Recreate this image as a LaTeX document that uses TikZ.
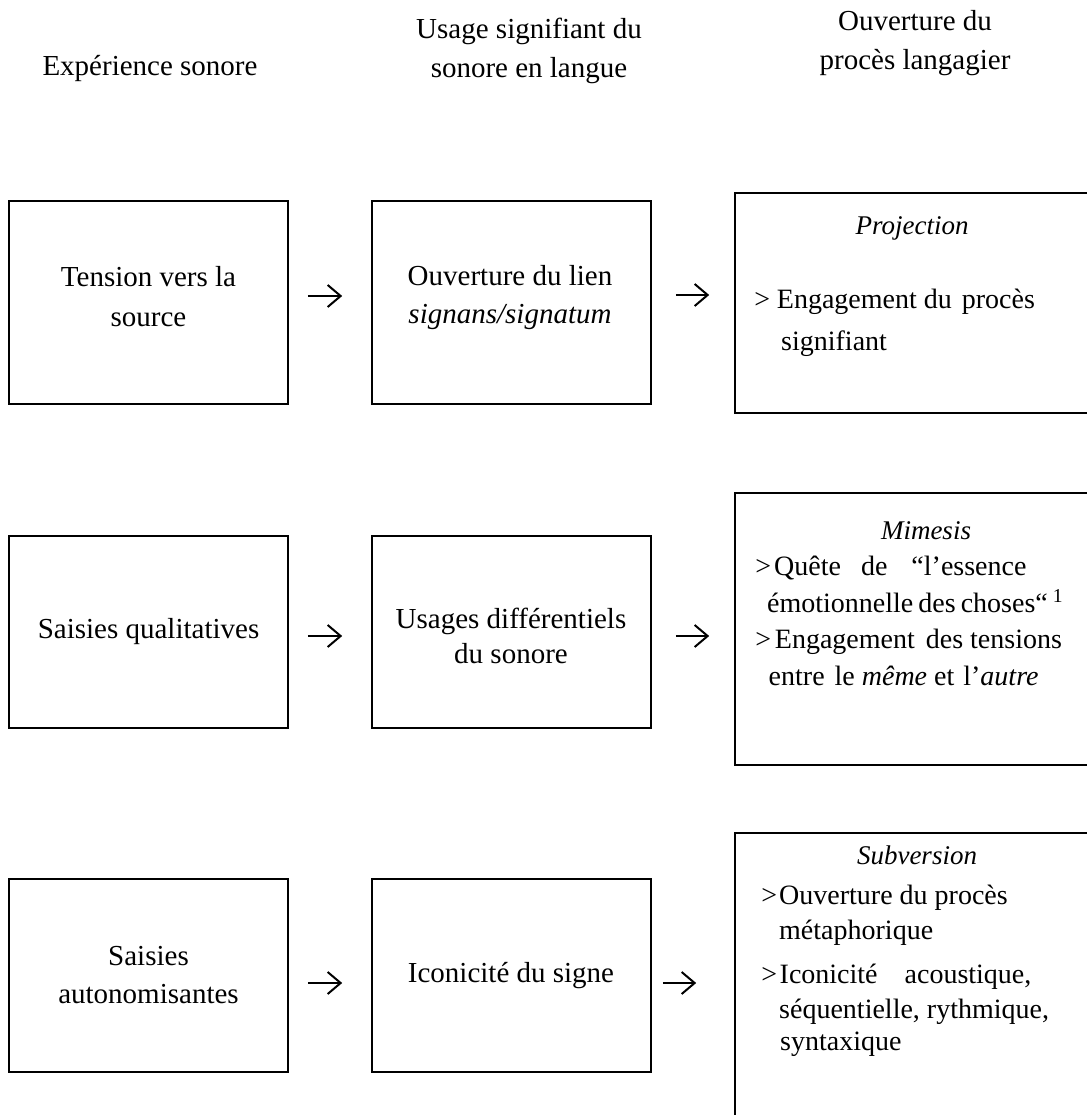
\documentclass[tikz,border=0pt]{standalone}
\usepackage{fontspec}
\setmainfont{Liberation Serif}
\usetikzlibrary{arrows.meta}
\tikzset{
  box/.style={draw, line width=1.6pt, inner sep=0pt},
  flow/.style={line width=2pt, -{Straight Barb[length=13pt,width=22pt,line width=2pt]}},
  lbl/.style={inner sep=0pt, anchor=base, align=center, font=\fontsize{29}{39}\selectfont},
  item/.style={inner sep=0pt, anchor=base west, font=\fontsize{28}{34}\selectfont},
  ttl/.style={inner sep=0pt, anchor=base, font=\fontsize{27}{32}\selectfont\itshape},
}
\begin{document}
\begin{tikzpicture}[x=1pt,y=-1pt]
\useasboundingbox (0,0) rectangle (1086,1115);

% headers (base anchor = baseline of last line)
\node[lbl] (h1) at (150,76) {Expérience sonore};
\node[lbl] (h2) at (529,78) {Usage signifiant du\\sonore en langue};
\node[lbl] (h3) at (915,70) {Ouverture du\\procès langagier};

% boxes
\node[box, minimum width=279pt, minimum height=203pt] (a1) at (148.5,302.5) {};
\node[box, minimum width=279pt, minimum height=203pt] (b1) at (511.5,302.5) {};
\node[box, minimum width=360pt, minimum height=220pt] (c1) at (915,303) {};

\node[box, minimum width=279pt, minimum height=192pt] (a2) at (148.5,632) {};
\node[box, minimum width=279pt, minimum height=192pt] (b2) at (511.5,632) {};
\node[box, minimum width=360pt, minimum height=272pt] (c2) at (915,629) {};

\node[box, minimum width=279pt, minimum height=193pt] (a3) at (148.5,975.5) {};
\node[box, minimum width=279pt, minimum height=193pt] (b3) at (511.5,975.5) {};
\node[box, minimum width=360pt, minimum height=292pt] (c3) at (915,979) {};

% left and middle texts
\node[lbl] (ta1) at (148.5,326) {Tension vers la\\[1pt]source};
\node[lbl] (tb1) at (510,323) {Ouverture du lien\\[-1pt]\textit{signans/signatum}};
\node[lbl] (ta2) at (148.5,638) {Saisies qualitatives};
\node[lbl] (tb2) at (511,663) {Usages différentiels\\[-4pt]du sonore};
\node[lbl] (ta3) at (148.5,1003) {Saisies\\[-1pt]autonomisantes};
\node[lbl] (tb3) at (511,982) {Iconicité du signe};

% right column, row 1
\node[ttl] (pt) at (912,234) {Projection};
\node[item] (p1) at (754.2,308) {>\hspace{6.7pt}Engagement du\hspace{3pt} procès};
\node[item] (p2) at (781,350) {signifiant};

% right column, row 2
\node[ttl] (mt) at (926,539) {Mimesis};
\node[item] (m1) at (755.2,575) {>\hspace{3pt}Quête\hspace{20pt}de\hspace{24pt}“l’essence};
\node[item] (m2) at (767,612) {émotionnelle\hspace{5pt}des\hspace{5pt}choses“\hspace{5pt}\textsuperscript{1}};
\node[item] (m3) at (755.2,648) {>\hspace{3.7pt}Engagement\hspace{4pt} des tensions};
\node[item] (m4) at (768.5,685) {entre\hspace{10pt}le \textit{même} et\hspace{9pt}l’\textit{autre}};

% right column, row 3
\node[ttl] (st) at (917,864) {Subversion};
\node[item] (s1) at (761.2,904) {>\hspace{2pt}Ouverture du procès};
\node[item] (s2) at (779,939) {métaphorique};
\node[item] (s3) at (761.2,983) {>\hspace{2.5pt}Iconicité\hspace{27pt}acoustique,};
\node[item] (s4) at (779,1018) {séquentielle, rythmique,};
\node[item] (s5) at (780,1050) {syntaxique};

% connectors
\draw[flow, shorten <=19pt, shorten >=29pt] ([yshift=6.5pt]a1.east) -- ([yshift=6.5pt]a1.east -| b1.west);
\draw[flow, shorten <=24pt, shorten >=25pt] ([yshift=7.5pt]b1.east) -- ([yshift=7.5pt]b1.east -| c1.west);
\draw[flow, shorten <=19pt, shorten >=29pt] ([yshift=-4pt]a2.east) -- ([yshift=-4pt]a2.east -| b2.west);
\draw[flow, shorten <=24pt, shorten >=25pt] ([yshift=-4pt]b2.east) -- ([yshift=-4pt]b2.east -| c2.west);
\draw[flow, shorten <=19pt, shorten >=29pt] ([yshift=-7.5pt]a3.east) -- ([yshift=-7.5pt]a3.east -| b3.west);
\draw[flow, shorten <=11pt, shorten >=38pt] ([yshift=-7.5pt]b3.east) -- ([yshift=-7.5pt]b3.east -| c3.west);
\end{tikzpicture}
\end{document}
